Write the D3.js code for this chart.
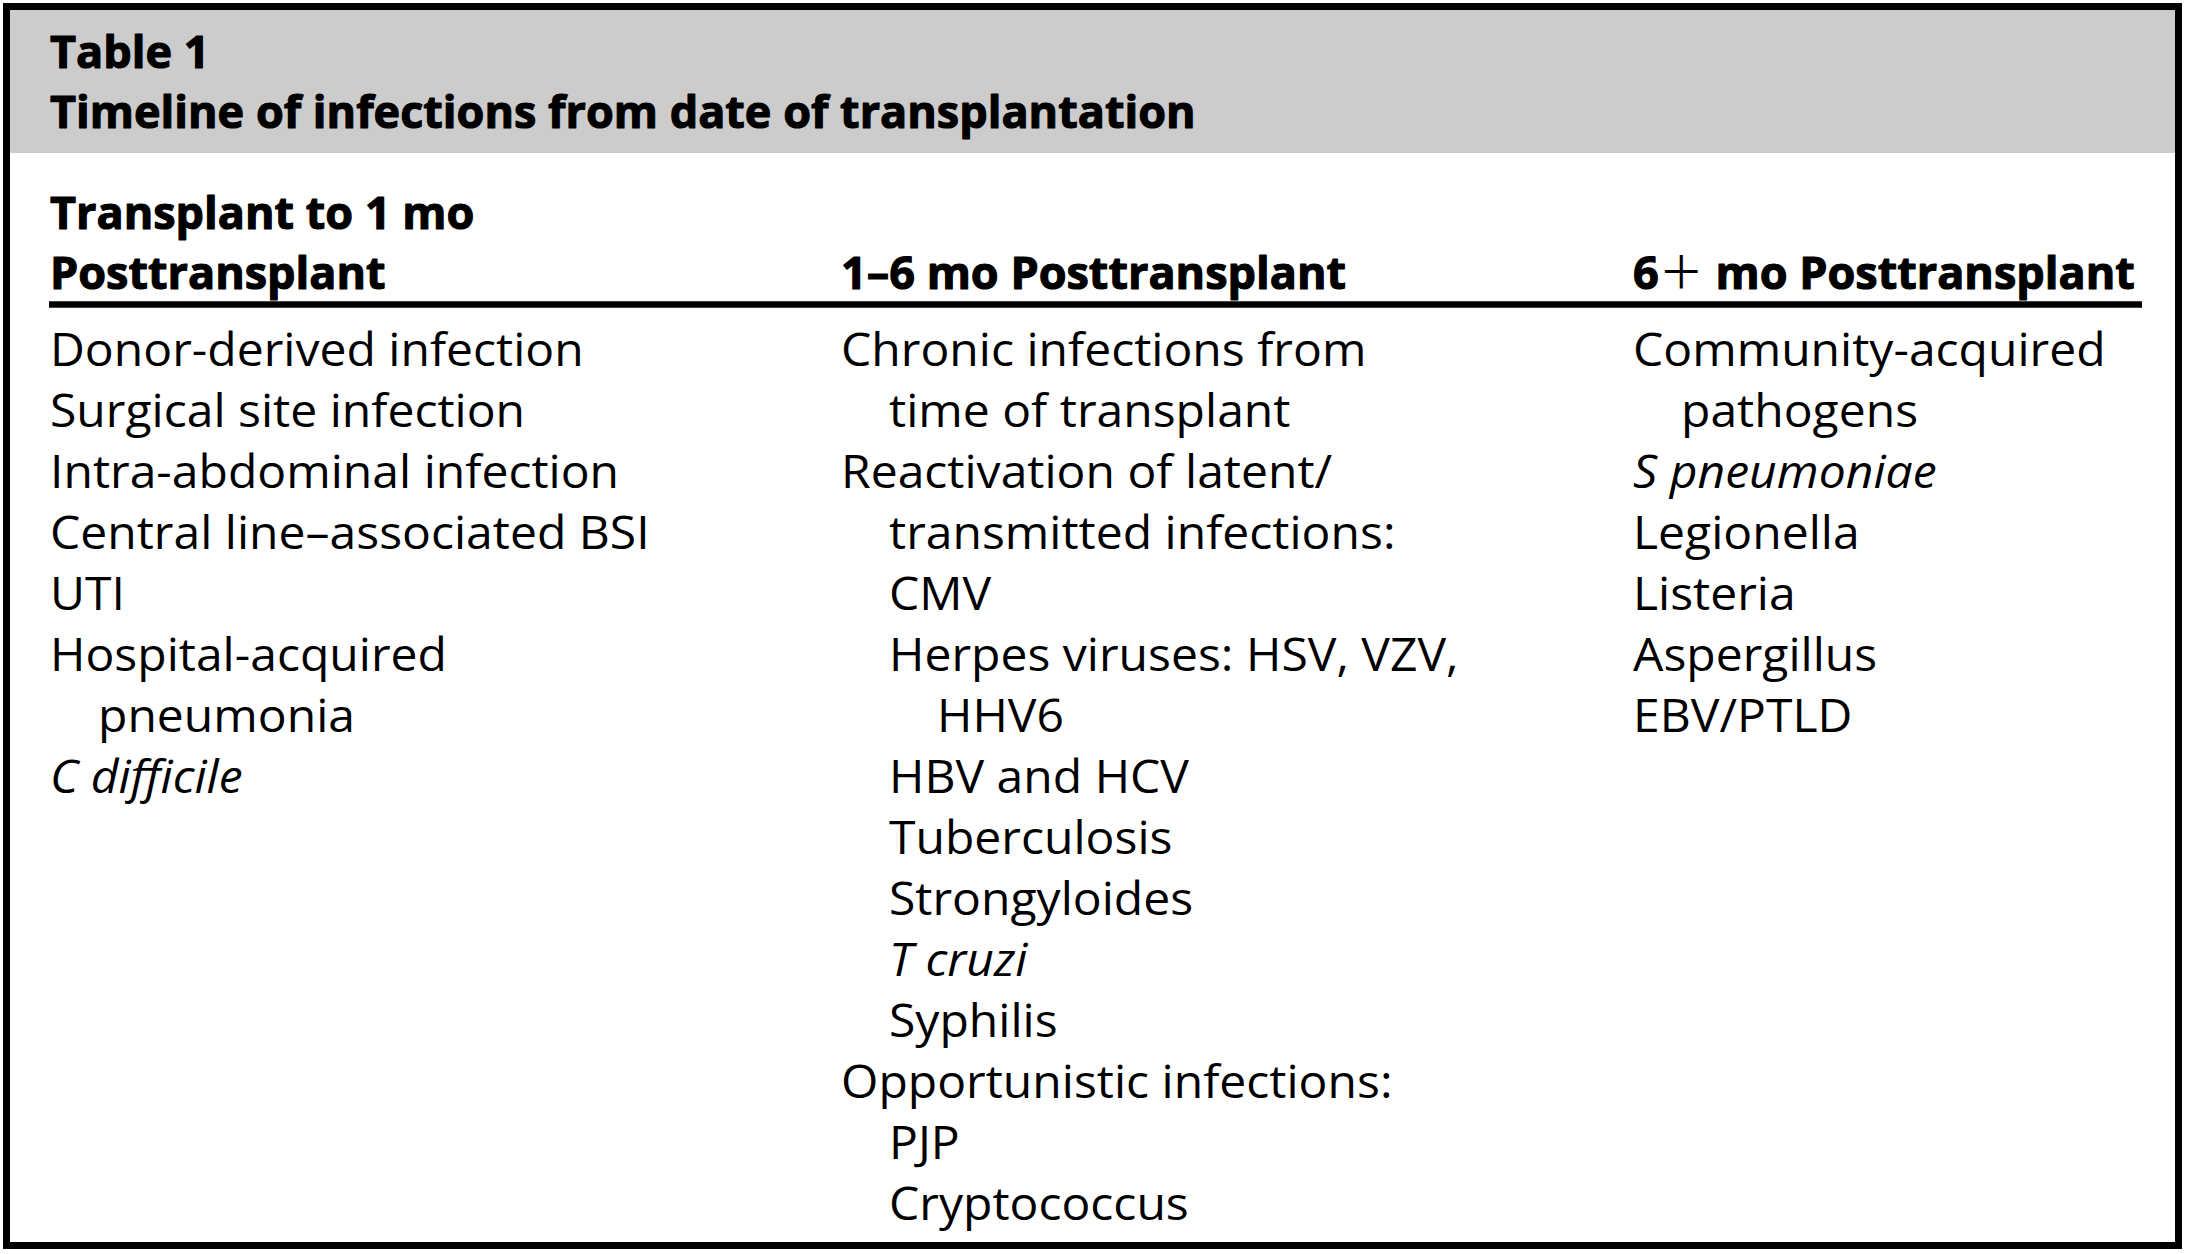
<!DOCTYPE html>
<html>
<head>
<meta charset="utf-8">
<script src="https://cdn.jsdelivr.net/npm/d3@7/dist/d3.min.js"></script>
<style>
  html, body { margin: 0; padding: 0; background: #ffffff; }
  svg { display: block; }
</style>
</head>
<body>
<svg id="chart" width="2188" height="1254"></svg>
<script>
// ---- content ----
const titleLines = ["Table 1", "Timeline of infections from date of transplantation"];
const columnHeaders = [
  ["Transplant to 1 mo", "Posttransplant"],
  ["1\u20136 mo Posttransplant"],
  ["6\uFF0B mo Posttransplant"]
];
// each entry: [text, indent level, italic]
const col1Items = [
  ["Donor-derived infection", 0, false],
  ["Surgical site infection", 0, false],
  ["Intra-abdominal infection", 0, false],
  ["Central line\u2013associated BSI", 0, false],
  ["UTI", 0, false],
  ["Hospital-acquired", 0, false],
  ["pneumonia", 1, false],
  ["C difficile", 0, true]
];
const col2Items = [
  ["Chronic infections from", 0, false],
  ["time of transplant", 1, false],
  ["Reactivation of latent/", 0, false],
  ["transmitted infections:", 1, false],
  ["CMV", 1, false],
  ["Herpes viruses: HSV, VZV,", 1, false],
  ["HHV6", 2, false],
  ["HBV and HCV", 1, false],
  ["Tuberculosis", 1, false],
  ["Strongyloides", 1, false],
  ["T cruzi", 1, true],
  ["Syphilis", 1, false],
  ["Opportunistic infections:", 0, false],
  ["PJP", 1, false],
  ["Cryptococcus", 1, false]
];
const col3Items = [
  ["Community-acquired", 0, false],
  ["pathogens", 1, false],
  ["S pneumoniae", 0, true],
  ["Legionella", 0, false],
  ["Listeria", 0, false],
  ["Aspergillus", 0, false],
  ["EBV/PTLD", 0, false]
];
const columns = [col1Items, col2Items, col3Items];

// ---- layout ----
const FONT = "'Open Sans', 'Noto Sans', sans-serif";
const CJK = "'Noto Sans CJK JP', 'Noto Sans CJK SC', sans-serif";
const svg = d3.select("#chart");

// title band and outer frame
svg.append("rect").attr("x", 10).attr("y", 10).attr("width", 2165).attr("height", 143)
  .attr("fill", "#cccccc");
svg.append("rect").attr("x", 6.5).attr("y", 6.5).attr("width", 2172).attr("height", 1239)
  .attr("fill", "none").attr("stroke", "#000").attr("stroke-width", 7);

// scales
const colX = d3.scaleOrdinal().domain([0, 1, 2]).range([50, 841, 1633]);
const indentX = d3.scaleLinear().domain([0, 1]).range([0, 48]);
const titleY = d3.scaleLinear().domain([0, 1]).range([68, 128]);
const headY = d3.scaleLinear().domain([0, 1]).range([229, 289]);
const rowY = d3.scaleLinear().domain([0, 1]).range([366, 427]);

const boldSize = 45, regSize = 46;
const boldScale = 1.0, regScale = 1.045;

function put(g, txt, x, y, opts) {
  const t = g.append("text")
    .attr("transform", `translate(${x},${y}) scale(${opts.sx},1)`)
    .attr("font-family", FONT)
    .attr("font-size", opts.size)
    .attr("font-weight", opts.bold ? 700 : 400)
    .attr("font-style", opts.italic ? "italic" : "normal")
    .attr("fill", "#000");
  if (opts.bold) t.attr("stroke", "#000").attr("stroke-width", 1.1).attr("stroke-linejoin", "round");
  const parts = txt.split(/(\uFF0B)/);
  parts.forEach(p => {
    if (!p) return;
    const ts = t.append("tspan").text(p);
    if (p === "\uFF0B") ts.attr("font-family", CJK).attr("font-weight", 400).attr("stroke-width", 0);
  });
  return t;
}

const gTitle = svg.append("g");
titleLines.forEach((s, i) => put(gTitle, s, colX(0), titleY(i), {size: boldSize, bold: true, sx: boldScale}));

const gHead = svg.append("g");
columnHeaders.forEach((lines, c) => {
  const n = lines.length;
  lines.forEach((s, i) => put(gHead, s, colX(c), headY(1 - (n - 1) + i), {size: boldSize, bold: true, sx: boldScale}));
});

// header rule
svg.append("line").attr("x1", 49).attr("x2", 2142).attr("y1", 304.5).attr("y2", 304.5)
  .attr("stroke", "#000").attr("stroke-width", 6.5);

const gBody = svg.append("g");
columns.forEach((items, c) => {
  items.forEach((d, i) => {
    put(gBody, d[0], colX(c) + indentX(d[1]), rowY(i), {size: regSize, bold: false, italic: d[2], sx: regScale});
  });
});
</script>
</body>
</html>
